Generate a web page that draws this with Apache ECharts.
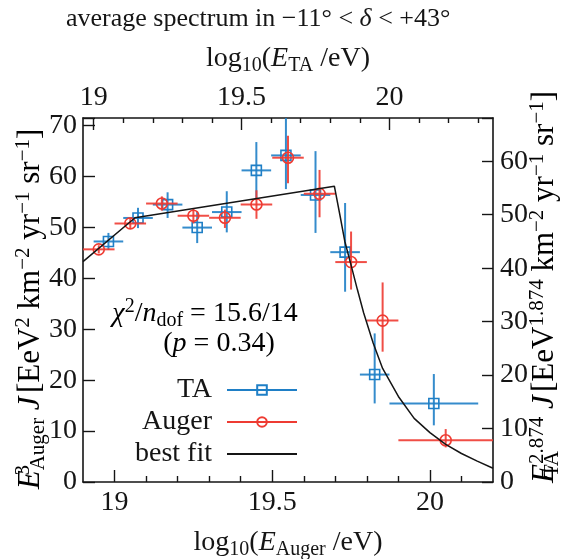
<!DOCTYPE html>
<html>
<head>
<meta charset="utf-8">
<script src="https://cdn.jsdelivr.net/npm/echarts@6/dist/echarts.min.js"></script>
<style>
  html, body { margin: 0; padding: 0; background: #fff; }
  #chart { width: 563px; height: 559px; }
</style>
</head>
<body>
<div id="chart"></div>
<script>
// Auger points, bottom / left axes
const augerX = [18.95, 19.05, 19.15, 19.25, 19.35, 19.45, 19.55, 19.65, 19.75, 19.85, 20.05]
const augerY = [45.7, 50.8, 54.7, 52.3, 51.9, 54.5, 63.7, 56.6, 43.2, 31.7, 8.2]
const augerXErr = [0.05, 0.05, 0.05, 0.05, 0.05, 0.05, 0.05, 0.05, 0.05, 0.05, 0.15]
const augerYLo = [0.8, 1.0, 1.4, 1.5, 2.0, 2.8, 5.0, 4.6, 5.4, 6.1, 1.4]
const augerYHi = [0.8, 1.0, 1.4, 1.5, 1.6, 2.8, 4.3, 4.7, 6.0, 7.5, 2.2]

// TA points, top / right axes
const taX = [19.05, 19.15, 19.25, 19.35, 19.45, 19.55, 19.65, 19.75, 19.85, 19.95, 20.15]
const taY = [45.0, 49.4, 51.9, 47.6, 50.5, 58.3, 61.1, 53.7, 43.0, 20.1, 14.7]
const taXErr = [0.05, 0.05, 0.05, 0.05, 0.05, 0.05, 0.05, 0.05, 0.05, 0.05, 0.15]
const taYLo = [1.6, 1.9, 2.5, 2.9, 3.8, 5.5, 6.3, 7.1, 7.4, 5.4, 4.1]
const taYHi = [1.6, 1.9, 2.3, 3.0, 3.9, 5.3, 7.2, 8.2, 9.2, 7.7, 5.5]

// best fit curve (Auger axes)
const fitX = [18.9, 19.065, 19.697, 19.715, 19.73, 19.75, 19.77, 19.79, 19.82, 19.85, 19.9, 19.95, 20.0, 20.05, 20.1, 20.15, 20.2]
const fitY = [43.3, 51.9, 58.1, 52.3, 47.3, 42.6, 37.8, 33.2, 27.3, 22.3, 16.8, 12.5, 9.7, 7.4, 5.6, 4.1, 2.7]

// ticks
const augerMajor = [19, 19.5, 20]
const augerMinor = [19.1, 19.2, 19.3, 19.4, 19.6, 19.7, 19.8, 19.9, 20.1]
const taMajor = [19, 19.5, 20]
const taMinor = [19.1, 19.2, 19.3, 19.4, 19.6, 19.7, 19.8, 19.9, 20.1, 20.2, 20.3]

const blue = '#1f7fc6'
const red = '#ee3b32'
const ink = '#151515'
const serif = 'Liberation Serif'
const fs = 28

function makeRich(size, small, lh) {
  const base = { fontFamily: serif, color: ink, fontWeight: 'normal' }
  return {
    n: { ...base, fontSize: size, lineHeight: lh },
    it: { ...base, fontSize: size, fontStyle: 'italic', lineHeight: lh },
    sup: { ...base, fontSize: small, verticalAlign: 'top', lineHeight: small },
    supz: { ...base, fontSize: small, verticalAlign: 'top', lineHeight: small, width: 0 },
    sub: { ...base, fontSize: small, verticalAlign: 'bottom', lineHeight: small + 5 },
    subz: { ...base, fontSize: small, verticalAlign: 'bottom', lineHeight: small + 5, width: 0 },
  }
}
const rich = makeRich(fs, 20, 34)
const richTitle = makeRich(26, 18, 30)
const richY = makeRich(31, 21, 36)

function errData(xs, ys, xe, lo, hi) {
  return xs.map((x, i) => [x, ys[i], xe[i], lo[i], hi[i]])
}

function errBars(color) {
  return (params, api) => {
    const x = api.value(0), y = api.value(1), xe = api.value(2), lo = api.value(3), hi = api.value(4)
    const l = api.coord([x - xe, y]), r = api.coord([x + xe, y])
    const b = api.coord([x, y - lo]), t = api.coord([x, y + hi])
    const style = { stroke: color, lineWidth: 2, opacity: 0.9 }
    return {
      type: 'group',
      children: [
        { type: 'line', shape: { x1: l[0], y1: l[1], x2: r[0], y2: r[1] }, style },
        { type: 'line', shape: { x1: b[0], y1: b[1], x2: t[0], y2: t[1] }, style },
      ],
    }
  }
}

const tickLabel = { fontFamily: serif, fontSize: fs, color: ink }
const axisLine = { lineStyle: { color: ink, width: 1.6 } }
const tickStyle = { color: ink, width: 1.4 }

const chart = echarts.init(document.getElementById('chart'))
chart.setOption({
  animation: false,
  title: {
    text: '{n|average spectrum in −11° < }{it|δ}{n| < +43°}',
    left: 66, top: 4, padding: 0,
    textStyle: { fontWeight: 'normal', rich: richTitle },
  },
  grid: { left: 83, right: 70, top: 118, bottom: 77, outerBoundsMode: 'none' },
  xAxis: [
    {
      type: 'value', min: 18.9, max: 20.2, position: 'bottom',
      axisLine, splitLine: { show: false },
      axisTick: { inside: true, length: 6, customValues: augerMinor, lineStyle: tickStyle },
      axisLabel: { customValues: augerMajor, margin: 7, ...tickLabel },
      name: '{n|log}{sub|10}{n|(}{it|E}{sub|Auger}{n| /eV)}', nameLocation: 'middle', nameGap: 44,
      nameTextStyle: { rich },
    },
    {
      type: 'value', min: 18.9, max: 20.2, position: 'bottom',
      axisLine: { show: false }, splitLine: { show: false }, axisLabel: { show: false },
      axisTick: { inside: true, length: 12, customValues: augerMajor, lineStyle: tickStyle },
    },
    {
      type: 'value', min: 18.964, max: 20.35, position: 'top',
      axisLine, splitLine: { show: false },
      axisTick: { inside: true, length: 5, customValues: taMinor, lineStyle: tickStyle },
      axisLabel: { customValues: taMajor, margin: 6, ...tickLabel },
      name: '{n|log}{sub|10}{n|(}{it|E}{sub|TA}{n| /eV)}', nameLocation: 'middle', nameGap: 42,
      nameTextStyle: { rich },
    },
    {
      type: 'value', min: 18.964, max: 20.35, position: 'top',
      axisLine: { show: false }, splitLine: { show: false }, axisLabel: { show: false },
      axisTick: { inside: true, length: 12, customValues: taMajor, lineStyle: tickStyle },
    },
  ],
  yAxis: [
    {
      type: 'value', min: 0, max: 71.5, interval: 10, position: 'left',
      axisLine, splitLine: { show: false },
      axisTick: { inside: true, length: 12, lineStyle: tickStyle },
      axisLabel: { margin: 6, ...tickLabel, formatter: v => (v % 10 === 0 ? v : '') },
    },
    {
      type: 'value', min: 0, max: 68.1, interval: 10, position: 'right',
      axisLine, splitLine: { show: false },
      axisTick: { inside: true, length: 11, lineStyle: tickStyle },
      axisLabel: { margin: 7, ...tickLabel, formatter: v => (v % 10 === 0 ? v : '') },
    },
  ],
  legend: {
    orient: 'vertical', align: 'right', right: 265, top: 376, padding: 0,
    itemWidth: 70, itemHeight: 12, itemGap: 4,
    textStyle: { fontFamily: serif, fontSize: fs, color: ink, lineHeight: 28, padding: [0, 10, 0, 0] },
    selectedMode: false,
    data: [
      { name: 'TA', lineStyle: { color: blue, width: 2, opacity: 1 } },
      { name: 'Auger', lineStyle: { color: red, width: 2, opacity: 1 } },
      { name: 'best fit', lineStyle: { color: ink, width: 2, opacity: 1 }, itemStyle: { opacity: 0 } },
    ],
  },
  graphic: [
    {
      type: 'text', x: 31, y: 309, rotation: Math.PI / 2,
      style: {
        text: '{it|E}{supz|3}{sub|Auger}{it| J} {n|[EeV}{sup|2}{n| km}{sup|−2}{n| yr}{sup|−1}{n| sr}{sup|−1}{n|]}',
        rich: richY, align: 'center', verticalAlign: 'middle',
      },
    },
    {
      type: 'text', x: 545, y: 287, rotation: Math.PI / 2,
      style: {
        text: '{it|E}{subz|TA}{sup|2.874}{it| J} {n|[EeV}{sup|1.874}{n| km}{sup|−2}{n| yr}{sup|−1}{n| sr}{sup|−1}{n|]}',
        rich: richY, align: 'center', verticalAlign: 'middle',
      },
    },
    {
      type: 'text', x: 205, y: 314,
      style: {
        text: '{it|χ}{sup|2}{n|/}{it|n}{sub|dof}{n| = 15.6/14}',
        rich, align: 'center', verticalAlign: 'middle',
      },
    },
    {
      type: 'text', x: 219, y: 344,
      style: { text: '{n|(}{it|p}{n| = 0.34)}', rich, align: 'center', verticalAlign: 'middle' },
    },
  ],
  series: [
    {
      name: 'TA err', type: 'custom', xAxisIndex: 2, yAxisIndex: 1, clip: true,
      renderItem: errBars(blue), data: errData(taX, taY, taXErr, taYLo, taYHi), z: 2,
    },
    {
      name: 'TA', type: 'line', xAxisIndex: 2, yAxisIndex: 1,
      data: taX.map((x, i) => [x, taY[i]]),
      symbol: 'rect', symbolSize: 10, showAllSymbol: true,
      itemStyle: { color: 'rgba(0,0,0,0)', borderColor: blue, borderWidth: 1.6 },
      lineStyle: { opacity: 0 }, z: 3,
    },
    {
      name: 'Auger err', type: 'custom', xAxisIndex: 0, yAxisIndex: 0, clip: true,
      renderItem: errBars(red), data: errData(augerX, augerY, augerXErr, augerYLo, augerYHi), z: 4,
    },
    {
      name: 'Auger', type: 'line', xAxisIndex: 0, yAxisIndex: 0,
      data: augerX.map((x, i) => [x, augerY[i]]),
      symbol: 'circle', symbolSize: 11, showAllSymbol: true,
      itemStyle: { color: 'rgba(0,0,0,0)', borderColor: red, borderWidth: 1.6 },
      lineStyle: { opacity: 0 }, z: 5,
    },
    {
      name: 'best fit', type: 'line', xAxisIndex: 0, yAxisIndex: 0,
      data: fitX.map((x, i) => [x, fitY[i]]),
      symbol: 'none', lineStyle: { color: ink, width: 1.5 }, z: 6,
    },
  ],
})
</script>
</body>
</html>
